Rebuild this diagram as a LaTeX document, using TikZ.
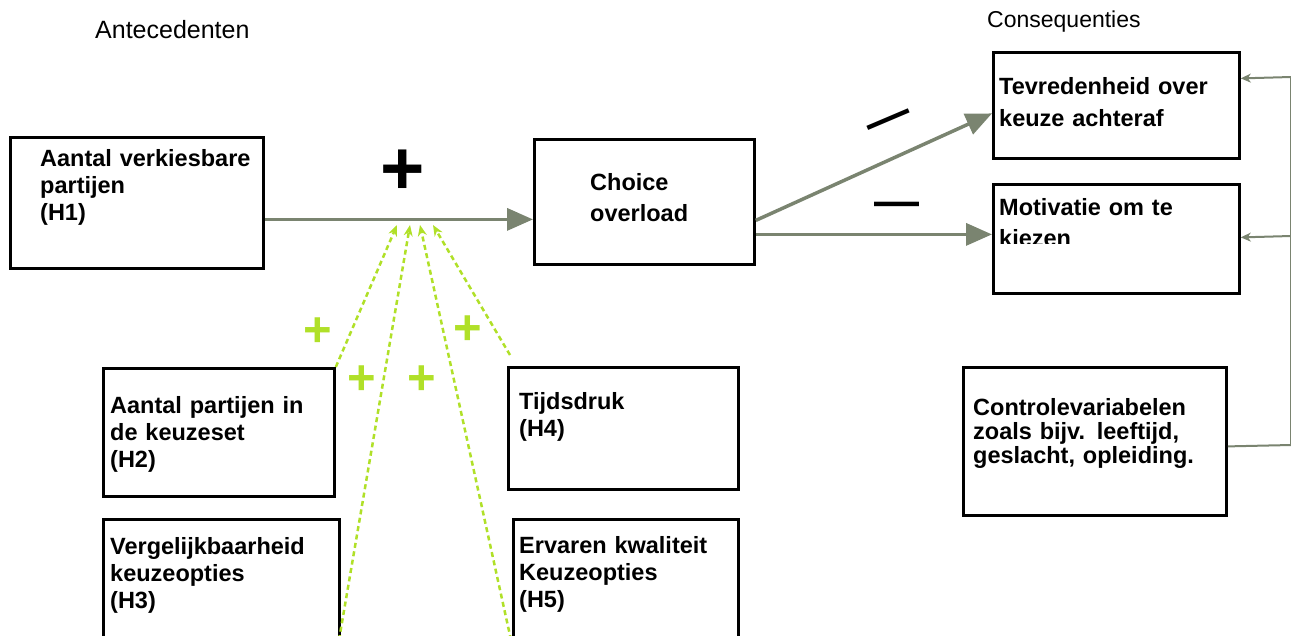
\documentclass[tikz,border=0pt]{standalone}
\usepackage{fontspec}
\setmainfont{Liberation Sans}
\usetikzlibrary{arrows.meta}
\definecolor{arrowgrey}{RGB}{122,132,112}
\definecolor{limegreen}{RGB}{176,224,40}
\tikzset{
  box/.style={draw, line width=2.8pt, inner sep=0pt, anchor=north west},
  txt/.style={anchor=base west, align=left, text width=260pt, inner sep=0pt,
    font=\fontsize{23.5}{27}\selectfont\bfseries},
  head/.style={anchor=base west, inner sep=0pt, font=\fontsize{24}{28}\selectfont},
  garrow/.style={line width=3.5pt, arrowgrey, -{Triangle[length=26pt,width=22pt]}},
  rarrow/.style={line width=2pt, arrowgrey, -{Stealth[length=10pt,width=9pt,inset=3pt]}},
  moder/.style={line width=2.5pt, limegreen, dash pattern=on 5pt off 3.5pt,
    -{Stealth[length=11pt,width=9pt]}},
  gplus/.style={limegreen, inner sep=0pt, font=\fontsize{49}{49}\selectfont\bfseries},
  bsign/.style={black, inner sep=0pt}
}
\begin{document}
\begin{tikzpicture}[x=1pt,y=-1pt]
\useasboundingbox (0,0) rectangle (1291,635);
\node[head, font=\fontsize{25}{28}\selectfont] (ante) at (95,38) {Antecedenten};
\node[head, font=\fontsize{23}{28}\selectfont] (cons) at (987,27) {Consequenties};

\node[box, minimum width=253pt, minimum height=131pt] (a) at (9,136) {};
\node[box, minimum width=220pt, minimum height=125pt] (ch) at (533,138) {};
\node[box, minimum width=246pt, minimum height=106pt] (tv) at (992,51) {};
\node[box, minimum width=246pt, minimum height=109pt] (mo) at (992,183) {};
\node[box, minimum width=263pt, minimum height=148pt] (ct) at (962,366) {};
\node[box, minimum width=231pt, minimum height=128pt] (h2) at (102,367) {};
\node[box, minimum width=236pt, minimum height=142pt] (h3) at (102,518) {};
\node[box, minimum width=230pt, minimum height=122pt] (h4) at (507,366) {};
\node[box, minimum width=225pt, minimum height=142pt] (h5) at (512,518) {};

\node[txt] (a-t) at (40,166) {Aantal verkiesbare\\partijen\\(H1)};
\node[txt] (ch-t) at (590,190) {Choice\\[4pt]overload};
\node[txt] (tv-t) at (999,94) {Tevredenheid over\\[5pt]keuze achteraf};
\begin{scope}
\clip (992,183) rectangle (1238,243);
\node[txt] (mo-t) at (999,215) {Motivatie om te\\[4pt]kiezen};
\end{scope}
\node[txt, font=\fontsize{23.5}{24}\selectfont\bfseries] (ct-t) at (973,415) {Controlevariabelen\\zoals bijv. leeftijd,\\geslacht, opleiding.};
\node[txt] (h2-t) at (110,413) {Aantal partijen in\\de keuzeset\\(H2)};
\node[txt] (h3-t) at (110,554) {Vergelijkbaarheid\\keuzeopties\\(H3)};
\node[txt] (h4-t) at (519,409) {Tijdsdruk\\(H4)};
\node[txt] (h5-t) at (519,553) {Ervaren kwaliteit\\Keuzeopties\\(H5)};

\draw[garrow] ([yshift=-16.5pt]a.east) -- ([yshift=-17.5pt]ch.west);
\draw[garrow] ([yshift=-18.5pt]ch.east) -- ([yshift=-8pt]tv.west);
\draw[garrow] ([yshift=-32.5pt]ch.east) -- ([yshift=4.5pt]mo.west);

\coordinate (r1) at (1291,77); \coordinate (r2) at (1291,236); \coordinate (r3) at (1291,445);
\draw[arrowgrey, line width=2pt] ([yshift=-5pt]ct.east) -- (r3) -- (r1);
\draw[rarrow] (r1) -- ([yshift=27pt]tv.east);
\draw[rarrow] (r2) -- ([yshift=1.5pt]mo.east);

\coordinate (t1) at (397,225); \coordinate (t2) at (410,225); \coordinate (t3) at (420,225); \coordinate (t4) at (433,225);
\coordinate (d2) at (339,640); \coordinate (d3) at (511,640); \coordinate (d4) at (510,355);
\draw[moder] (h2.north east) -- (t1);
\draw[moder] (d2) -- (t2);
\draw[moder] (d3) -- (t3);
\draw[moder] (d4) -- (t4);

\node[gplus] (p1) at (318,332) {+}; \node[gplus] (p2) at (362,380) {+}; \node[gplus] (p3) at (422,380) {+}; \node[gplus] (p4) at (468,330) {+};
\node[bsign, font=\fontsize{76}{76}\selectfont\bfseries] (bp) at (403,172) {+};
\node[bsign, font=\fontsize{45}{45}\selectfont\bfseries, rotate=23] (m1) at (890,124) {—};
\node[bsign, font=\fontsize{45}{45}\selectfont\bfseries] (m2) at (897,209) {—};
\end{tikzpicture}
\end{document}
